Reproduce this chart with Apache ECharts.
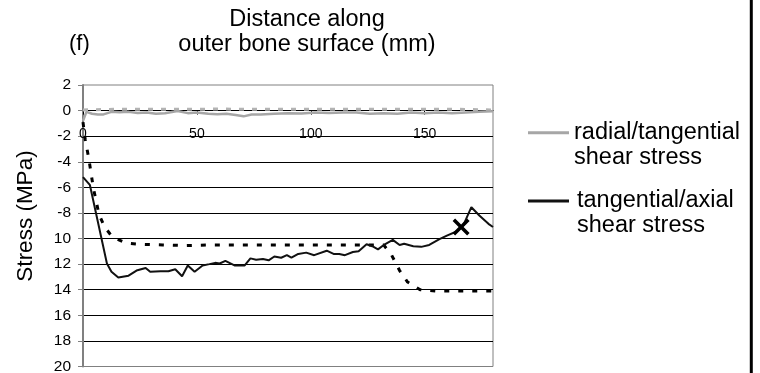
<!DOCTYPE html>
<html>
<head>
<meta charset="utf-8">
<script src="https://cdn.jsdelivr.net/npm/echarts@6/dist/echarts.min.js"></script>
<style>
  html, body { margin: 0; padding: 0; background: #fff; }
  #chart { width: 760px; height: 373px; }
</style>
</head>
<body>
<div id="chart"></div>
<script>
// Y tick values and the labels printed beside them
const yTickValues = [2, 0, -2, -4, -6, -8, -10, -12, -14, -16, -18, -20];
const yTickLabels = ['2', '0', '-2', '-4', '-6', '-8', '10', '12', '14', '16', '18', '20'];

// radial/tangential shear stress (solid grey)
const radialX = [0, 1.5, 4, 6.5, 9, 12.5, 16, 20, 24, 28, 32, 36, 41.5, 46, 50, 55, 59, 63, 67, 70.5,
  74, 78, 84, 90, 96, 102, 108, 114, 120, 126, 132, 138, 144, 150, 156, 162, 168, 174, 180];
const radialY = [-0.8, -0.1, -0.25, -0.3, -0.3, -0.1, -0.12, -0.1, -0.18, -0.15, -0.24, -0.2, -0.03, -0.2, -0.15,
  -0.25, -0.29, -0.25, -0.35, -0.45, -0.3, -0.3, -0.25, -0.2, -0.22, -0.15, -0.18, -0.15, -0.15, -0.25,
  -0.2, -0.24, -0.15, -0.2, -0.15, -0.2, -0.15, -0.1, -0.05];

// radial/tangential companion curve (dashed grey)
const radialDashX = [0, 15, 30, 45, 60, 75, 90, 105, 120, 135, 150, 165, 180];
const radialDashY = [0.05, 0.1, 0.1, 0.1, 0.12, 0.1, 0.1, 0.1, 0.1, 0.1, 0.1, 0.1, 0.05];

// tangential/axial shear stress (solid black)
const tanAxialX = [0, 3, 10.5, 12.5, 15.5, 20, 23.5, 27.5, 29.5, 34, 37.5, 40.5, 43.5, 46, 49, 52.5, 55.5, 58, 60, 62.5,
  66.5, 71, 73.5, 76, 79, 81.5, 84, 87, 89.5, 91.5, 94.5, 98, 101.5, 107, 110, 112.5, 115, 118.5, 121, 124.5,
  127, 129.5, 132.5, 136, 139, 141, 145, 148.5, 152, 156.5, 160, 164, 167, 170.5, 174, 178, 180];
const tanAxialY = [-5.2, -5.8, -11.95, -12.6, -13.05, -12.9, -12.5, -12.3, -12.6, -12.55, -12.55, -12.4, -12.95, -12.1,
  -12.6, -12.1, -12.0, -11.9, -11.95, -11.75, -12.1, -12.1, -11.55, -11.65, -11.6, -11.7, -11.4, -11.5, -11.3,
  -11.5, -11.2, -11.1, -11.3, -10.95, -11.2, -11.2, -11.3, -11.05, -11.0, -10.45, -10.6, -10.85, -10.45, -10.1,
  -10.5, -10.4, -10.6, -10.65, -10.5, -10.05, -9.75, -9.45, -8.95, -7.55, -8.2, -8.85, -9.1];

// tangential/axial companion curve (dashed black)
const tanAxialDashX = [0, 1, 2.5, 4.5, 7, 9.5, 13, 19, 25, 35, 45, 55, 65, 75, 85, 95, 105, 115, 125, 132,
  135.5, 139, 142.5, 148, 155, 165, 175, 180];
const tanAxialDashY = [-0.9, -2.3, -3.7, -6.0, -8.1, -9.1, -9.9, -10.35, -10.45, -10.5, -10.55, -10.5, -10.5, -10.5,
  -10.5, -10.5, -10.5, -10.5, -10.5, -10.5, -11.3, -12.5, -13.4, -14.0, -14.1, -14.1, -14.1, -14.1];

// cross marker
const markerX = [166];
const markerY = [-9.1];

const FONT = '"Liberation Sans", Arial, sans-serif';
const pairs = (xs, ys) => xs.map((x, i) => [x, ys[i]]);
const CROSS = 'path://M0,2.5 L2.5,0 L8.5,6 L14.5,0 L17,2.5 L11,8.5 L17,14.5 L14.5,17 L8.5,11 L2.5,17 L0,14.5 L6,8.5 Z';

// plot box
const GRID_TOP = 85;
const GRID_BOTTOM = 6.5;
const GRID_H = 373 - GRID_TOP - GRID_BOTTOM;
const Y_MIN = -20, Y_MAX = 2;
// distance from the plot floor up to the zero line, used to lift the x axis onto y = 0
const ZERO_LIFT = GRID_H * (0 - Y_MIN) / (Y_MAX - Y_MIN);

const chart = echarts.init(document.getElementById('chart'), null, { renderer: 'canvas' });

const legendBase = {
  orient: 'vertical',
  left: 528,
  padding: 0,
  itemGap: 0,
  icon: 'rect',
  itemWidth: 41,
  itemHeight: 3,
  selectedMode: false,
  formatter: name => '\n' + name.replace(' shear', '\nshear')
};

chart.setOption({
  animation: false,
  backgroundColor: '#fff',
  textStyle: { fontFamily: FONT },
  grid: {
    left: 83, right: 267, top: GRID_TOP, bottom: GRID_BOTTOM,
    containLabel: false, outerBoundsMode: 'none',
    show: true, borderColor: '#808080', borderWidth: 1
  },
  legend: [
    Object.assign({}, legendBase, {
      top: 95.2,
      data: ['radial/tangential shear stress'],
      textStyle: { fontFamily: FONT, fontSize: 23.5, lineHeight: 25, color: '#000' }
    }),
    Object.assign({}, legendBase, {
      top: 160,
      data: ['tangential/axial shear stress'],
      textStyle: { fontFamily: FONT, fontSize: 23.5, lineHeight: 25, color: '#000', padding: [7, 0, 0, 3] }
    })
  ],
  xAxis: {
    type: 'value',
    min: 0, max: 180, interval: 50,
    position: 'bottom',
    offset: -ZERO_LIFT,
    axisLine: { onZero: false, lineStyle: { color: '#000', width: 1 } },
    axisTick: { show: true, length: 4, lineStyle: { color: '#000' } },
    axisLabel: { fontSize: 14, color: '#000', margin: 17, showMaxLabel: false, fontFamily: FONT },
    splitLine: { show: false }
  },
  yAxis: {
    type: 'value',
    min: Y_MIN, max: Y_MAX, interval: 2,
    axisLine: { show: true, onZero: false, lineStyle: { color: '#808080', width: 2 } },
    axisTick: { show: true, length: 5, lineStyle: { color: '#808080' } },
    axisLabel: {
      fontSize: 15.5, color: '#000', margin: 12, fontFamily: FONT,
      formatter: v => yTickLabels[yTickValues.indexOf(Math.round(v))]
    },
    splitLine: { show: true, showMinLine: false, showMaxLine: false, lineStyle: { color: '#000', width: 1 } }
  },
  series: [
    {
      name: 'radial/tangential dashed', type: 'line', showSymbol: false, z: 2,
      data: pairs(radialDashX, radialDashY),
      color: '#b3b3b3',
      lineStyle: { color: '#b3b3b3', width: 3, type: [5, 8] }
    },
    {
      name: 'radial/tangential shear stress', type: 'line', showSymbol: false, z: 3,
      data: pairs(radialX, radialY),
      color: '#a6a6a6',
      lineStyle: { color: '#a6a6a6', width: 2.5 }
    },
    {
      name: 'tangential/axial dashed', type: 'line', showSymbol: false, z: 4,
      data: pairs(tanAxialDashX, tanAxialDashY),
      color: '#000',
      lineStyle: { color: '#000', width: 3, type: [5, 9] }
    },
    {
      name: 'tangential/axial shear stress', type: 'line', showSymbol: false, z: 5,
      data: pairs(tanAxialX, tanAxialY),
      color: '#111',
      lineStyle: { color: '#111', width: 2 }
    },
    {
      name: 'marker', type: 'scatter', z: 6,
      data: pairs(markerX, markerY),
      symbol: CROSS, symbolSize: 17,
      itemStyle: { color: '#000', opacity: 1 }
    }
  ],
  graphic: [
    {
      type: 'text', x: 307, y: 32.25, silent: true,
      style: {
        text: 'Distance along\nouter bone surface (mm)',
        fontFamily: FONT, fontSize: 23.5, lineHeight: 24.5, fill: '#000',
        align: 'center', verticalAlign: 'middle'
      }
    },
    {
      type: 'text', x: 69, y: 43.5, silent: true,
      style: { text: '(f)', fontFamily: FONT, fontSize: 22, fill: '#000', align: 'left', verticalAlign: 'middle' }
    },
    {
      type: 'text', x: 25.5, y: 216, rotation: Math.PI / 2, silent: true,
      style: { text: 'Stress (MPa)', fontFamily: FONT, fontSize: 22.5, fill: '#000', align: 'center', verticalAlign: 'middle' }
    },
    {
      type: 'line', silent: true,
      shape: { x1: 751.3, y1: 0, x2: 751.3, y2: 373 },
      style: { stroke: '#000', lineWidth: 3 }
    }
  ]
});
</script>
</body>
</html>
